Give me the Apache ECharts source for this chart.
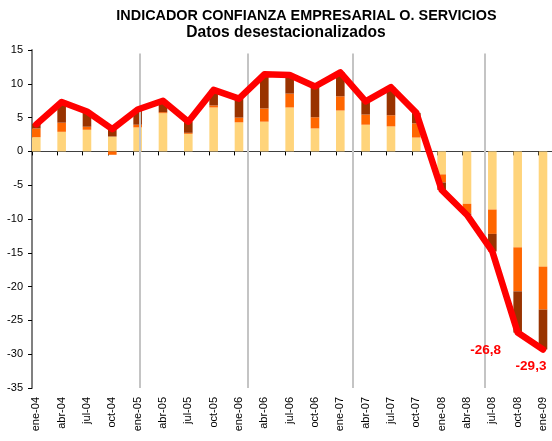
<!DOCTYPE html>
<html>
<head>
<meta charset="utf-8">
<script src="https://cdn.jsdelivr.net/npm/echarts@6/dist/echarts.min.js"></script>
<style>
  html, body { margin: 0; padding: 0; background: #ffffff; }
  #chart { width: 552px; height: 441px; }
</style>
</head>
<body>
<div id="chart"></div>
<script>
const titleLine1 = 'INDICADOR CONFIANZA EMPRESARIAL O. SERVICIOS';
const titleLine2 = 'Datos desestacionalizados';

const categories = ['ene-04','abr-04','jul-04','oct-04','ene-05','abr-05','jul-05','oct-05','ene-06','abr-06',
  'jul-06','oct-06','ene-07','abr-07','jul-07','oct-07','ene-08','abr-08','jul-08','oct-08','ene-09'];

const yellowValues = [2.1, 2.9, 3.2, 2.2, 3.55, 5.65, 2.6, 6.5, 4.3, 4.4,
  6.5, 3.4, 6.05, 3.95, 3.7, 2.05, -3.4, -7.75, -8.6, -14.2, -17.05];
const orangeValues = [1.3, 1.35, 0.45, -0.5, 0.4, 0.15, 0.15, 0.3, 0.7, 1.95,
  2.05, 1.65, 2.1, 1.5, 1.65, 2.1, -1.2, -1.45, -3.6, -6.5, -6.35];
const brownValues = [0.7, 3.05, 2.25, 1.1, 2.25, 1.7, 1.65, 2.3, 2.8, 5.0,
  2.75, 4.5, 3.55, 1.95, 4.15, 1.55, -1.1, -0.2, -2.6, -6.1, -5.9];
const indicatorValues = [4.0, 7.3, 5.9, 3.3, 6.2, 7.5, 4.4, 9.1, 7.8, 11.4,
  11.3, 9.6, 11.7, 7.4, 9.5, 5.7, -5.7, -9.4, -14.8, -26.8, -29.3];

const labelledPoints = [19, 20];

const yTicks = { min: -35, max: 15, interval: 5 };
// year separators, in units of the tick axis (one unit per category band)
const separators = [4.26, 8.5, 12.65, 17.88];
const separatorTop = 14.5;

const FONT = "'Liberation Sans', Arial, Helvetica, sans-serif";
const labelOffsets = { 19: [-32, 18], 20: [-12, 17] };

const chart = echarts.init(document.getElementById('chart'), null, { renderer: 'canvas' });

const lineData = indicatorValues.map((v, i) => {
  if (labelledPoints.indexOf(i) >= 0) {
    return {
      value: v,
      label: {
        show: true,
        position: 'inside',
        offset: labelOffsets[i],
        formatter: (p) => String(p.value).replace('.', ','),
        color: '#FF0000',
        fontWeight: 'bold',
        fontSize: 13.5,
        fontFamily: FONT
      }
    };
  }
  return v;
});

const option = {
  backgroundColor: '#ffffff',
  animation: false,
  title: [
    { text: titleLine1, left: 301.5, top: 4.5, textAlign: 'center',
      textStyle: { fontFamily: FONT, fontWeight: 'bold', fontSize: 14.4, color: '#000' } },
    { text: titleLine2, left: 281, top: 19.5, textAlign: 'center',
      textStyle: { fontFamily: FONT, fontWeight: 'bold', fontSize: 15.6, color: '#000' } }
  ],
  grid: [
    { left: 32, right: 0, top: 50, bottom: 53, containLabel: false },
    { left: 36.3, right: 9, top: 50, bottom: 53, containLabel: false }
  ],
  xAxis: [
    {
      type: 'value', gridIndex: 0, min: 0, max: 20.53, interval: 1,
      axisLine: { show: true, onZero: true, onZeroAxisIndex: 0, lineStyle: { color: '#404040', width: 1 } },
      axisTick: { show: true, length: 4, lineStyle: { color: '#000', width: 1 } },
      axisLabel: { show: false },
      splitLine: { show: false }
    },
    {
      type: 'category', gridIndex: 1, data: categories, boundaryGap: false,
      position: 'bottom',
      axisLine: { show: false, onZero: false },
      axisTick: { show: false },
      axisLabel: { show: true, rotate: 90, interval: 0, margin: 9,
        fontFamily: FONT, fontSize: 11, color: '#000' },
      splitLine: { show: false }
    }
  ],
  yAxis: [
    {
      type: 'value', gridIndex: 0, min: yTicks.min, max: yTicks.max, interval: yTicks.interval,
      axisLine: { show: true, lineStyle: { color: '#808080', width: 2 } },
      axisTick: { show: true, length: 4, lineStyle: { color: '#000', width: 1 } },
      axisLabel: { show: true, margin: 9, fontFamily: FONT, fontSize: 11, color: '#000' },
      splitLine: { show: false }
    },
    {
      type: 'value', gridIndex: 1, min: yTicks.min, max: yTicks.max, interval: yTicks.interval,
      show: false, splitLine: { show: false }
    }
  ],
  series: [
    {
      type: 'line', xAxisIndex: 0, yAxisIndex: 0, data: [], z: 1, silent: true,
      markLine: {
        silent: true, symbol: ['none', 'none'], label: { show: false },
        lineStyle: { type: 'solid', color: '#c4c4c4', width: 2 },
        data: separators.map(x => [{ coord: [x, separatorTop] }, { coord: [x, yTicks.min] }])
      }
    },
    {
      name: 'c1', type: 'bar', xAxisIndex: 1, yAxisIndex: 1, stack: 'total',
      data: yellowValues, barWidth: 8.6, itemStyle: { color: '#FFD47B' }, z: 2
    },
    {
      name: 'c2', type: 'bar', xAxisIndex: 1, yAxisIndex: 1, stack: 'total',
      data: orangeValues, barWidth: 8.6, itemStyle: { color: '#FF6600' }, z: 2
    },
    {
      name: 'c3', type: 'bar', xAxisIndex: 1, yAxisIndex: 1, stack: 'total',
      data: brownValues, barWidth: 8.6, itemStyle: { color: '#993300' }, z: 2
    },
    {
      name: 'Indicador', type: 'line', xAxisIndex: 1, yAxisIndex: 1,
      data: lineData, z: 5,
      symbol: 'circle', symbolSize: 1, showSymbol: true,
      itemStyle: { color: '#FF0000' },
      lineStyle: { color: '#FF0000', width: 6.5, join: 'round', cap: 'round' },
      label: { show: false }
    }
  ]
};

chart.setOption(option);
</script>
</body>
</html>
